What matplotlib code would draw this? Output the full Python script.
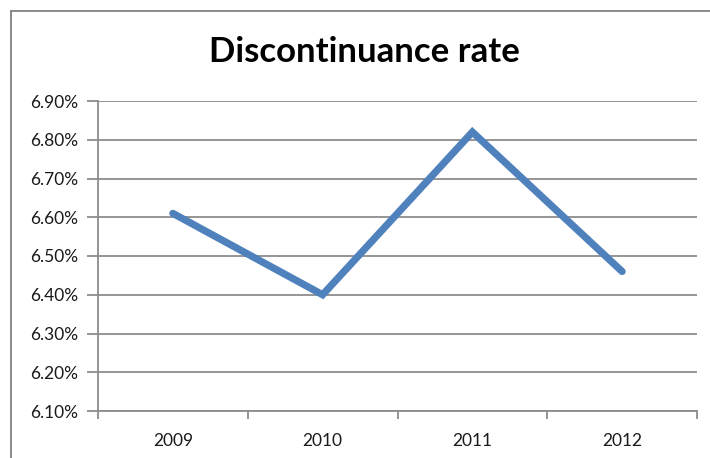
import matplotlib
matplotlib.use("Agg")
import matplotlib.pyplot as plt
from matplotlib.lines import Line2D
from matplotlib.ticker import FixedLocator, NullFormatter, FuncFormatter

# Data
years = ["2009", "2010", "2011", "2012"]
rates = [6.61, 6.40, 6.82, 6.46]   # percent
y_ticks = [6.10, 6.20, 6.30, 6.40, 6.50, 6.60, 6.70, 6.80, 6.90]

W, H = 710, 458
fig = plt.figure(figsize=(W / 100, H / 100), dpi=100)
fig.patch.set_facecolor("white")

font = ["Lato", "DejaVu Sans"]
grid_col = "#8c8c8c"
text_col = "#1a1a1a"

# chart frame (top and left edges)
fig.add_artist(Line2D([11 / W, 11 / W], [0, 1 - 11 / H], transform=fig.transFigure,
                      color="#8a8a8a", lw=1.4))
fig.add_artist(Line2D([11 / W, 1], [1 - 11 / H, 1 - 11 / H], transform=fig.transFigure,
                      color="#8a8a8a", lw=1.4))

left, right, top, bottom = 98, 697, 101, 411
ax = fig.add_axes([left / W, 1 - bottom / H, (right - left) / W, (bottom - top) / H])

xpos = [i + 0.5 for i in range(len(years))]
ax.plot(xpos, rates, color="#4F81BD", lw=5.2, solid_capstyle="round",
        solid_joinstyle="miter", zorder=3)

ax.set_xlim(0, len(years))
ax.set_ylim(y_ticks[0], y_ticks[-1])

# y axis
ax.set_yticks(y_ticks)
ax.yaxis.set_major_formatter(FuncFormatter(lambda v, p: f"{v:.2f}%"))
ax.grid(axis="y", color=grid_col, lw=1.3)
ax.set_axisbelow(True)

# category axis: ticks on boundaries, labels centred
ax.xaxis.set_major_locator(FixedLocator(range(len(years) + 1)))
ax.xaxis.set_major_formatter(NullFormatter())
ax.xaxis.set_minor_locator(FixedLocator(xpos))
ax.set_xticklabels(years, minor=True)
ax.tick_params(axis="x", which="minor", length=0, pad=16, labelsize=12.5,
               labelcolor=text_col)
ax.tick_params(axis="x", which="major", length=6, width=1.3, color=grid_col)
ax.tick_params(axis="y", length=8, width=1.3, color=grid_col, pad=6,
               labelsize=12.5, labelcolor=text_col)
for lab in ax.get_xticklabels(minor=True) + ax.get_yticklabels():
    lab.set_family(font)

for s in ["top", "right"]:
    ax.spines[s].set_visible(False)
for s in ["left", "bottom"]:
    ax.spines[s].set_color(grid_col)
    ax.spines[s].set_linewidth(1.3)

fig.text(364 / W, 1 - 52 / H, "Discontinuance rate", ha="center", va="center",
         fontsize=25, fontweight="bold", family=font, color="black")

fig.savefig("out.png", dpi=100)
